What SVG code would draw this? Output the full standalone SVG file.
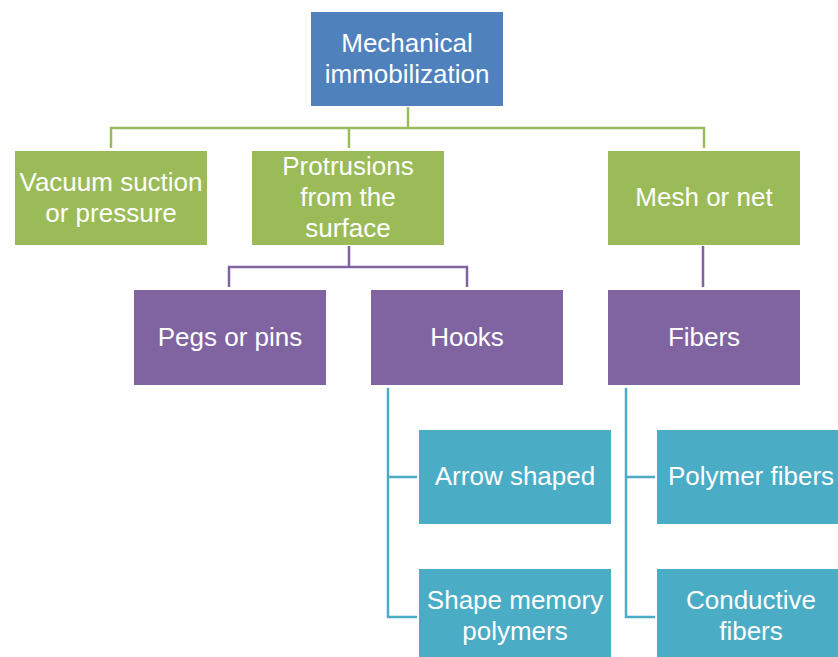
<svg xmlns="http://www.w3.org/2000/svg" width="838" height="657" viewBox="0 0 838 657">
<style>
text{font-family:"Liberation Sans",Arial,sans-serif;font-size:26px;fill:#fff;text-anchor:middle}
.l{fill:none;stroke-width:2.5}
.g{stroke:#9BBB59}.p{stroke:#8064A2}.c{stroke:#4BACC6}
.b0{fill:#4F81BD}.b1{fill:#9BBB59}.b2{fill:#8064A2}.b3{fill:#4BACC6}
</style>
<rect width="838" height="657" fill="#fff"/>
<g id="connectors">
<path class="l g" d="M408 107V128M111 148V128H704V148M349 128V148"/>
<path class="l p" d="M349 246V267M229 287V267H467V287M703 246V287"/>
<path class="l c" d="M388 388V617H417M388 477H417M626 388V617H655M626 477H655"/>
</g>
<g id="n-mech"><rect class="b0" x="311" y="12" width="192" height="94"/><text x="407" y="52">Mechanical</text><text x="407" y="83">immobilization</text></g>
<g id="n-vacuum"><rect class="b1" x="15" y="151" width="192" height="94"/><text x="111" y="191">Vacuum suction</text><text x="111" y="222">or pressure</text></g>
<g id="n-protrusions"><rect class="b1" x="252" y="151" width="192" height="94"/><text x="348" y="175">Protrusions</text><text x="348" y="206">from the</text><text x="348" y="237">surface</text></g>
<g id="n-mesh"><rect class="b1" x="608" y="151" width="192" height="94"/><text x="704" y="206">Mesh or net</text></g>
<g id="n-pegs"><rect class="b2" x="134" y="290" width="192" height="95"/><text x="230" y="346">Pegs or pins</text></g>
<g id="n-hooks"><rect class="b2" x="371" y="290" width="192" height="95"/><text x="467" y="346">Hooks</text></g>
<g id="n-fibers"><rect class="b2" x="608" y="290" width="192" height="95"/><text x="704" y="346">Fibers</text></g>
<g id="n-arrow"><rect class="b3" x="419" y="430" width="192" height="94"/><text x="515" y="485">Arrow shaped</text></g>
<g id="n-shape"><rect class="b3" x="419" y="569" width="192" height="94"/><text x="515" y="609">Shape memory</text><text x="515" y="640">polymers</text></g>
<g id="n-polymer"><rect class="b3" x="657" y="430" width="192" height="94"/><text x="751" y="485">Polymer fibers</text></g>
<g id="n-conductive"><rect class="b3" x="657" y="569" width="192" height="94"/><text x="751" y="609">Conductive</text><text x="751" y="640">fibers</text></g>
</svg>
